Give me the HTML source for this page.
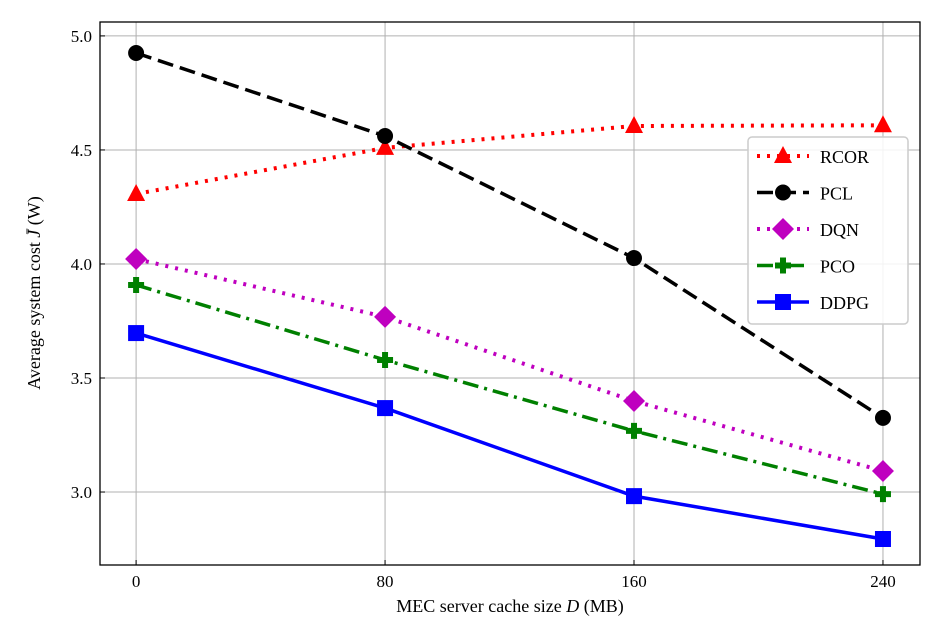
<!DOCTYPE html>
<html><head><meta charset="utf-8"><style>
body{margin:0;background:#fff}
svg{font-family:"Liberation Serif",serif}
</style></head><body>
<svg id="chart" width="940" height="633" viewBox="0 0 940 633"></svg>
<script>
const categories=[0,80,160,240];
const rcor=[4.307,4.509,4.605,4.608];
const pcl=[4.925,4.561,4.026,3.325];
const dqn=[4.022,3.768,3.399,3.092];
const pco=[3.908,3.579,3.268,2.991];
const ddpg=[3.697,3.368,2.982,2.794];
const xTicks=[0,80,160,240];
const yTicks=[3.0,3.5,4.0,4.5,5.0];
const seriesNames=["RCOR","PCL","DQN","PCO","DDPG"];

const L=100,R=920,T=22,B=565;
const xMin=-11.6,xMax=251.9,yMin=2.68,yMax=5.061;
const X=v=>L+(v-xMin)/(xMax-xMin)*(R-L);
const Y=v=>B-(v-yMin)/(yMax-yMin)*(B-T);
const NS="http://www.w3.org/2000/svg";
const svg=document.getElementById('chart');
function mk(tag,attrs,parent){const e=document.createElementNS(NS,tag);for(const k in attrs)e.setAttribute(k,attrs[k]);(parent||svg).appendChild(e);return e;}

// grid
const grid=mk('g',{});


xTicks.forEach(t=>mk('line',{x1:X(t),x2:X(t),y1:T,y2:B,stroke:'#b0b0b0','stroke-width':1},grid));
yTicks.forEach(t=>mk('line',{x1:L,x2:R,y1:Y(t),y2:Y(t),stroke:'#b0b0b0','stroke-width':1},grid));

// ticks & labels
const xt=mk('g',{});


xTicks.forEach(t=>{mk('line',{x1:X(t),x2:X(t),y1:B,y2:B-5,stroke:'#000'},xt);
 const tx=mk('text',{x:X(t),y:B+22,'text-anchor':'middle','font-size':17},xt);tx.textContent=t;});
const yt=mk('g',{});


yTicks.forEach(t=>{mk('line',{x1:L,x2:L+5,y1:Y(t),y2:Y(t),stroke:'#000'},yt);
 const tx=mk('text',{x:L-8,y:Y(t)+6,'text-anchor':'end','font-size':17},yt);tx.textContent=t.toFixed(1);});

const styles=[
 {data:rcor,color:'#ff0000',dash:'3,7',w:4,marker:'tri'},
 {data:pcl,color:'#000',dash:'16,7',w:3.5,marker:'circle'},
 {data:dqn,color:'#bf00bf',dash:'3,7',w:4,marker:'diamond'},
 {data:pco,color:'#008000',dash:'16,6,3,6',w:3.5,marker:'plus'},
 {data:ddpg,color:'#0000ff',dash:'',w:3.5,marker:'square'}
];
function marker(type,x,y,c,g){
 if(type==='tri')mk('polygon',{points:`${x},${y-10} ${x-9},${y+7} ${x+9},${y+7}`,fill:c},g);
 else if(type==='circle')mk('circle',{cx:x,cy:y,r:8,fill:c},g);
 else if(type==='diamond')mk('polygon',{points:`${x},${y-11} ${x+11},${y} ${x},${y+11} ${x-11},${y}`,fill:c},g);
 else if(type==='plus')mk('path',{d:`M${x-3},${y-8}h6v5h5v6h-5v5h-6v-5h-5v-6h5z`,fill:c},g);
 else mk('rect',{x:x-8,y:y-8,width:16,height:16,fill:c},g);
}
styles.forEach((s,i)=>{
 const g=mk('g',{});
 
 
 mk('polyline',{points:s.data.map((v,j)=>X(categories[j])+','+Y(v)).join(' '),fill:'none',stroke:s.color,'stroke-width':s.w,'stroke-dasharray':s.dash},g);
 s.data.forEach((v,j)=>marker(s.marker,X(categories[j]),Y(v),s.color,g));
});

// frame
mk('rect',{x:L,y:T,width:R-L,height:B-T,fill:'none',stroke:'#000','stroke-width':1.3});

// legend
const lg=mk('g',{});


mk('rect',{x:748,y:137,width:160,height:187,rx:4,fill:'#fff','fill-opacity':0.85,stroke:'#ccc','stroke-width':1.5},lg);
styles.forEach((s,i)=>{
 const y=156+i*36.5;
 const e=mk('g',{},lg);
 
 
 mk('line',{x1:757,x2:809,y1:y,y2:y,stroke:s.color,'stroke-width':s.w,'stroke-dasharray':s.dash},e);
 marker(s.marker,783,y,s.color,e);
 const t=mk('text',{x:820,y:y+7,'font-size':18},e);t.textContent=seriesNames[i];
});

// axis titles
const xl=mk('text',{x:510,y:612,'text-anchor':'middle','font-size':18});


xl.innerHTML='MEC server cache size <tspan font-style="italic">D</tspan> (MB)';
const yl=mk('text',{x:0,y:0,'text-anchor':'middle','font-size':18,transform:'translate(40,293) rotate(-90)'});


yl.innerHTML='Average system cost <tspan font-style="italic">J̄</tspan> (W)';
</script>
</body></html>
